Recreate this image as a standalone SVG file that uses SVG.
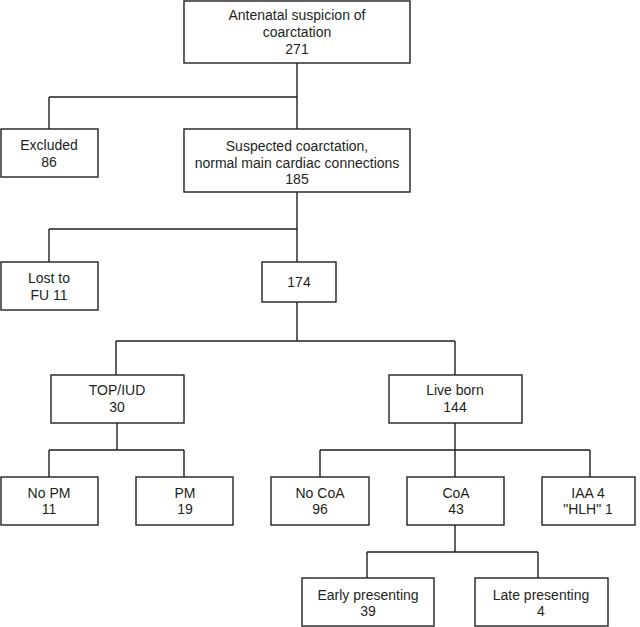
<svg xmlns="http://www.w3.org/2000/svg" width="640" height="627" viewBox="0 0 640 627">
<style>
.box{fill:#fff;stroke:#231f20;stroke-width:1.4}
.ln{fill:none;stroke:#231f20;stroke-width:1.4}
text{font-family:"Liberation Sans",Arial,sans-serif;font-size:14px;fill:#231f20;text-anchor:middle}
</style>
<rect width="640" height="627" fill="#fff"/>
<g id="connectors">
<path class="ln" d="M297 63V129M49 97H297M49 97V129"/>
<path class="ln" d="M297 192V262M49 229H297M49 229V262"/>
<path class="ln" d="M297 302V341M116 341H455M116 341V375M455 341V375"/>
<path class="ln" d="M117 423V450M49 450H184M49 450V477M184 450V477"/>
<path class="ln" d="M455 423V450M320 450H590M320 450V477M455 450V477M590 450V477"/>
<path class="ln" d="M455 525V552M367 552H538M367 552V578M538 552V578"/>
</g>
<g id="n271"><rect class="box" x="184" y="1" width="226" height="62"/><text x="297" y="20">Antenatal suspicion of</text><text x="297" y="37">coarctation</text><text x="297" y="54">271</text></g>
<g id="excluded"><rect class="box" x="1" y="129" width="97" height="48"/><text x="49" y="150">Excluded</text><text x="49" y="167">86</text></g>
<g id="n185"><rect class="box" x="184" y="129" width="226" height="63"/><text x="297" y="151">Suspected coarctation,</text><text x="297" y="167.5">normal main cardiac connections</text><text x="297" y="184">185</text></g>
<g id="lost"><rect class="box" x="1" y="262" width="97" height="48"/><text x="49" y="283">Lost to</text><text x="49" y="300">FU 11</text></g>
<g id="n174"><rect class="box" x="262" y="262" width="74" height="40"/><text x="299" y="287">174</text></g>
<g id="top"><rect class="box" x="51" y="375" width="133" height="48"/><text x="117" y="395">TOP/IUD</text><text x="117" y="412">30</text></g>
<g id="live"><rect class="box" x="389" y="375" width="133" height="48"/><text x="455" y="395">Live born</text><text x="455" y="412">144</text></g>
<g id="nopm"><rect class="box" x="1" y="477" width="97" height="48"/><text x="49" y="498">No PM</text><text x="49" y="514">11</text></g>
<g id="pm"><rect class="box" x="136" y="477" width="97" height="48"/><text x="185" y="498">PM</text><text x="185" y="514">19</text></g>
<g id="nocoa"><rect class="box" x="271" y="477" width="98" height="48"/><text x="320" y="498">No CoA</text><text x="320" y="514">96</text></g>
<g id="coa"><rect class="box" x="407" y="477" width="97" height="48"/><text x="456" y="498">CoA</text><text x="456" y="514">43</text></g>
<g id="iaa"><rect class="box" x="542" y="477" width="93" height="48"/><text x="588" y="498">IAA 4</text><text x="588" y="514">"HLH" 1</text></g>
<g id="early"><rect class="box" x="302" y="578" width="132" height="48"/><text x="368" y="600">Early presenting</text><text x="368" y="616">39</text></g>
<g id="late"><rect class="box" x="475" y="578" width="133" height="48"/><text x="541" y="600">Late presenting</text><text x="541" y="616">4</text></g>
</svg>
